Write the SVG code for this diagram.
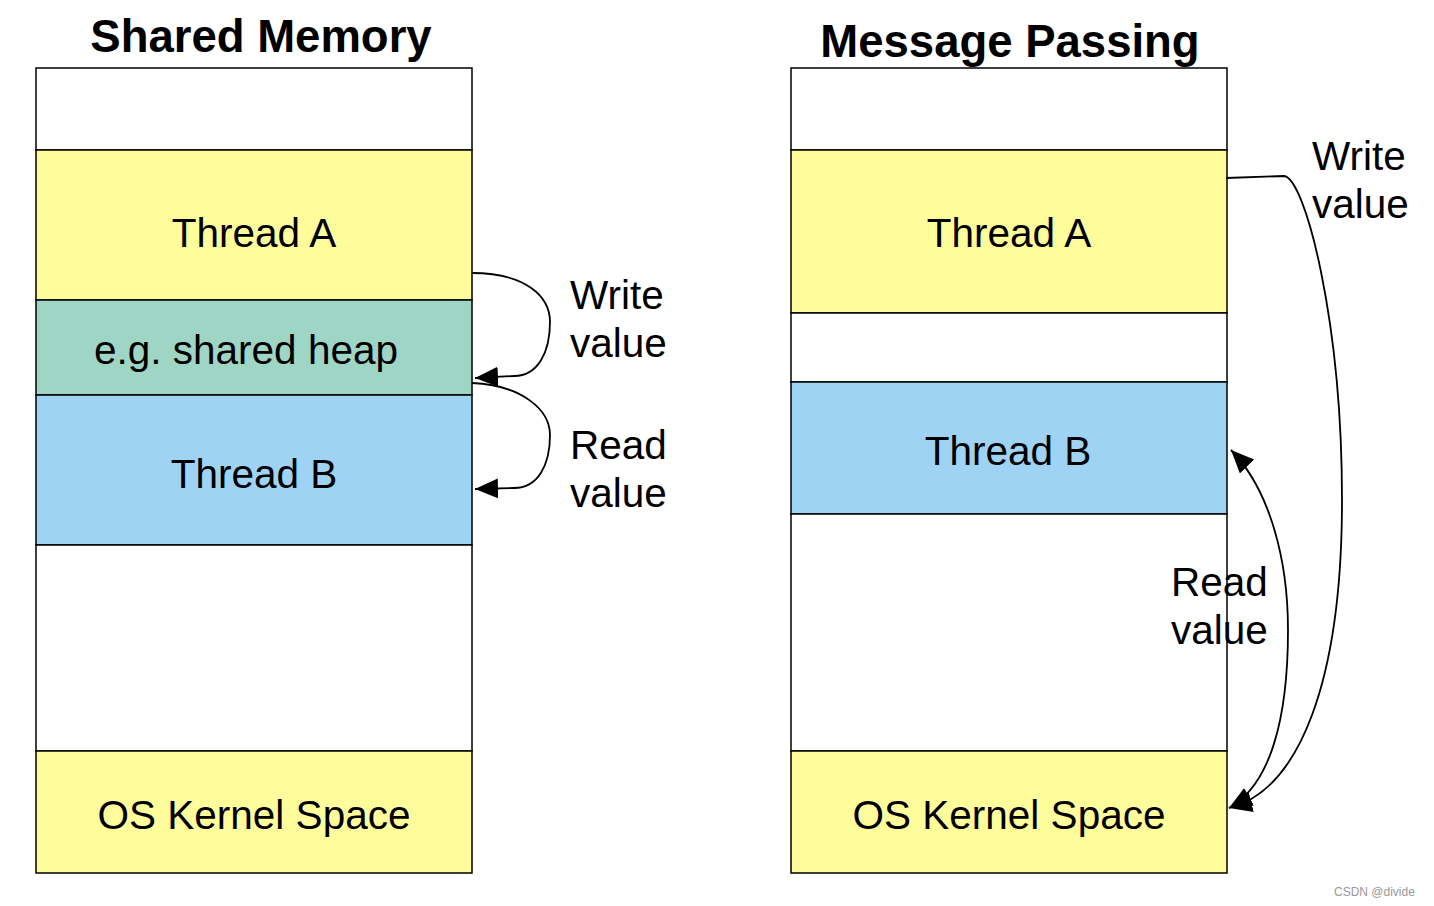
<svg xmlns="http://www.w3.org/2000/svg" width="1434" height="906" viewBox="0 0 1434 906">
<style>
.blk{stroke:#000;stroke-width:1.5}
.w{fill:#fff}
.y{fill:#FFFD9B}
.g{fill:#9FD5C5}
.b{fill:#9ED3F4}
.t{font-family:"Liberation Sans",Arial,sans-serif;font-size:40.5px;fill:#000}
.c{text-anchor:middle}
.h{font-family:"Liberation Sans",Arial,sans-serif;font-size:45.5px;font-weight:bold;text-anchor:middle;fill:#000}
.con{fill:none;stroke:#000;stroke-width:1.8}
</style>
<defs>
<marker id="ah" markerUnits="userSpaceOnUse" markerWidth="26" markerHeight="22" refX="23" refY="10" orient="auto-start-reverse" viewBox="0 0 26 22">
<path d="M0,0 L23,10 L0,20 z" fill="#000"/>
</marker>
</defs>
<rect width="1434" height="906" fill="#fff"/>
<text class="h" x="261" y="52">Shared Memory</text>
<text class="h" x="1010" y="57">Message Passing</text>

<g id="sm-top"><rect class="w blk" x="36" y="68" width="436" height="82"/></g>
<g id="sm-threadA"><rect class="y blk" x="36" y="150" width="436" height="150"/><text class="t c" x="254" y="247">Thread A</text></g>
<g id="sm-heap"><rect class="g blk" x="36" y="300" width="436" height="95"/><text class="t c" x="246" y="364">e.g. shared heap</text></g>
<g id="sm-threadB"><rect class="b blk" x="36" y="395" width="436" height="150"/><text class="t c" x="254" y="488">Thread B</text></g>
<g id="sm-free"><rect class="w blk" x="36" y="545" width="436" height="206"/></g>
<g id="sm-kernel"><rect class="y blk" x="36" y="751" width="436" height="122"/><text class="t c" x="254" y="829">OS Kernel Space</text></g>

<g id="mp-top"><rect class="w blk" x="791" y="68" width="436" height="82"/></g>
<g id="mp-threadA"><rect class="y blk" x="791" y="150" width="436" height="163"/><text class="t c" x="1009" y="247">Thread A</text></g>
<g id="mp-gap"><rect class="w blk" x="791" y="313" width="436" height="69"/></g>
<g id="mp-threadB"><rect class="b blk" x="791" y="382" width="436" height="132"/><text class="t c" x="1008" y="465">Thread B</text></g>
<g id="mp-free"><rect class="w blk" x="791" y="514" width="436" height="237"/></g>
<g id="mp-kernel"><rect class="y blk" x="791" y="751" width="436" height="122"/><text class="t c" x="1009" y="829">OS Kernel Space</text></g>

<g id="connectors">
<path class="con" marker-end="url(#ah)" d="M472,273 C525,273 550,296 550,322 C550,352 538,376 514,376 L475,378"/>
<path class="con" marker-end="url(#ah)" d="M472,383 C522,385 550,410 550,435 C550,465 538,488 514,488 L475,489"/>
<path class="con" marker-end="url(#ah)" d="M1226,178 L1284,176 C1305,178 1342,320 1342,500 C1342,680 1300,790 1229,808"/>
<path class="con" marker-start="url(#ah)" marker-end="url(#ah)" d="M1231,450 C1270,490 1288,560 1288,630 C1288,720 1270,785 1229,808"/>
</g>

<g id="labels">
<text class="t" x="570" y="309">Write</text>
<text class="t" x="570" y="357">value</text>
<text class="t" x="570" y="459">Read</text>
<text class="t" x="570" y="507">value</text>
<text class="t" x="1312" y="170">Write</text>
<text class="t" x="1312" y="218">value</text>
<text class="t" x="1171" y="596">Read</text>
<text class="t" x="1171" y="644">value</text>
</g>
<text x="1334" y="896" font-family="Liberation Sans,Arial,sans-serif" font-size="12" fill="#999">CSDN @divide</text>
</svg>
